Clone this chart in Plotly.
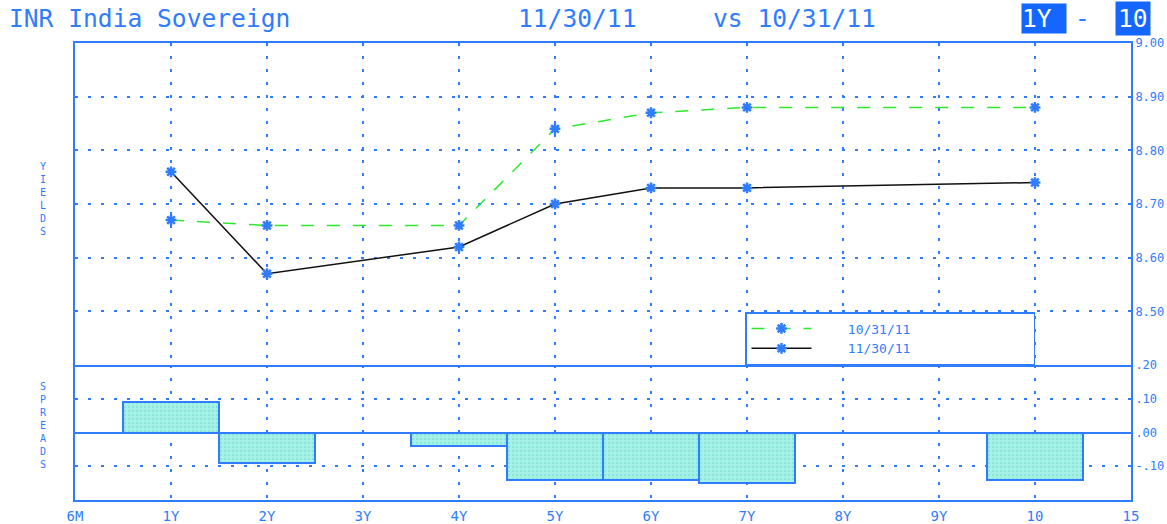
import plotly.graph_objects as go
from plotly.subplots import make_subplots

# ---- data ----
axis_labels = ["6M", "1Y", "2Y", "3Y", "4Y", "5Y", "6Y", "7Y", "8Y", "9Y", "10", "15"]
tenors = ["1Y", "2Y", "4Y", "5Y", "6Y", "7Y", "10"]
yld_nov = [8.76, 8.57, 8.62, 8.70, 8.73, 8.73, 8.74]   # 11/30/11
yld_oct = [8.67, 8.66, 8.66, 8.84, 8.87, 8.88, 8.88]   # 10/31/11
spreads = [0.09, -0.09, -0.04, -0.14, -0.14, -0.15, -0.14]
yield_ticks = [8.5, 8.6, 8.7, 8.8, 8.9, 9.0]
yield_ticktext = ["8.50", "8.60", "8.70", "8.80", "8.90", "9.00"]
spread_ticks = [-0.1, 0.0, 0.1, 0.2]
spread_ticktext = ["-.10", ".00", ".10", ".20"]

BLUE = "#2f7cff"
TXT = "#2f7cff"
W, H = 1167, 524
L, R, T, B = 75, 36, 43, 24

xpos = [axis_labels.index(t) for t in tenors]

fig = make_subplots(rows=2, cols=1, shared_xaxes=True, vertical_spacing=0,
                    row_heights=[322 / 457, 135 / 457])

marker = dict(symbol="asterisk-open", size=9, color=BLUE, line=dict(color=BLUE, width=2.5))
NB = "\u00a0"

fig.add_trace(go.Scatter(x=xpos, y=yld_oct, mode="lines+markers",
                         name=NB * 4 + "10/31/11" + NB * 15,
                         line=dict(color="#2ee82e", width=1.5, dash="13px,13px"),
                         marker=marker), row=1, col=1)
fig.add_trace(go.Scatter(x=xpos, y=yld_nov, mode="lines+markers",
                         name=NB * 4 + "11/30/11" + NB * 15,
                         line=dict(color="#111111", width=1.5),
                         marker=marker), row=1, col=1)
fig.add_trace(go.Bar(x=xpos, y=spreads, width=1.0, showlegend=False,
                     marker=dict(color="#a6f2e6", line=dict(color=BLUE, width=2),
                                 pattern=dict(shape=".", fgcolor="#70d8d0", size=4, solidity=0.3))),
              row=2, col=1)

grid = dict(gridcolor=BLUE, griddash="3px,10px", gridwidth=1.5)
xtickfont = dict(family="DejaVu Sans Mono", size=14, color=TXT)
ytickfont = dict(family="DejaVu Sans Mono", size=12, color=TXT)
fig.update_xaxes(range=[0, 11], tickvals=list(range(12)), ticktext=axis_labels,
                 showgrid=True, **grid, showline=True, linecolor=BLUE, linewidth=2,
                 ticks="", zeroline=False, tickfont=xtickfont, automargin=False,
                 ticklabelstandoff=2)
fig.update_xaxes(mirror=True, row=1, col=1)
fig.update_xaxes(mirror=False, row=2, col=1)
fig.update_yaxes(range=[8.4, 9.0], tickvals=yield_ticks, ticktext=yield_ticktext,
                 side="right", showgrid=True, **grid, showline=True, mirror=True,
                 linecolor=BLUE, linewidth=2, ticks="", zeroline=False, automargin=False,
                 tickfont=ytickfont, ticklabelstandoff=0, row=1, col=1)
fig.update_yaxes(range=[-0.2, 0.2], tickvals=spread_ticks, ticktext=spread_ticktext,
                 side="right", showgrid=True, **grid, showline=True, mirror=True,
                 linecolor=BLUE, linewidth=2, ticks="", zeroline=True, automargin=False,
                 zerolinecolor=BLUE, zerolinewidth=1.5,
                 tickfont=ytickfont, ticklabelstandoff=0, row=2, col=1)


def px(x):
    return (x - L) / (W - L - R)


def py(y):
    return (H - B - y) / (H - T - B)


ann = []
tfont = dict(family="DejaVu Sans Mono", size=24.6, color=TXT)
hfont = dict(family="DejaVu Sans Mono", size=24.6, color="white")
ann.append(dict(text="INR India Sovereign", x=px(7), y=py(19), xanchor="left", yanchor="middle", font=tfont))
ann.append(dict(text="11/30/11", x=px(516), y=py(19), xanchor="left", yanchor="middle", font=tfont))
ann.append(dict(text="vs 10/31/11", x=px(711), y=py(19), xanchor="left", yanchor="middle", font=tfont))
ann.append(dict(text="1Y" + NB, x=px(1021), y=py(19), xanchor="left", yanchor="middle",
                font=hfont, bgcolor="#1565ff", borderpad=0))
ann.append(dict(text="-", x=px(1073), y=py(19), xanchor="left", yanchor="middle", font=tfont))
ann.append(dict(text="10", x=px(1115), y=py(19), xanchor="left", yanchor="middle",
                font=hfont, bgcolor="#1565ff", borderpad=2))
sfont = dict(family="DejaVu Sans Mono", size=10, color=TXT)
ann.append(dict(text="<br>".join("YIELDS"), x=px(43), y=py(199), xanchor="center", yanchor="middle", font=sfont))
ann.append(dict(text="<br>".join("SPREADS"), x=px(43), y=py(425), xanchor="center", yanchor="middle", font=sfont))
for a in ann:
    a.update(xref="paper", yref="paper", showarrow=False)

fig.update_layout(
    width=W, height=H, margin=dict(l=L, r=R, t=T, b=B, autoexpand=False),
    paper_bgcolor="white", plot_bgcolor="white",
    annotations=ann, bargap=0,
    legend=dict(x=px(745), y=py(312), xanchor="left", yanchor="top",
                bordercolor=BLUE, borderwidth=1.5, bgcolor="white",
                font=dict(family="DejaVu Sans Mono", size=13, color=TXT),
                itemwidth=60, tracegroupgap=0),
)

fig.write_html("out.html", config={"displayModeBar": False},
               post_script="document.body.style.margin='0';")
